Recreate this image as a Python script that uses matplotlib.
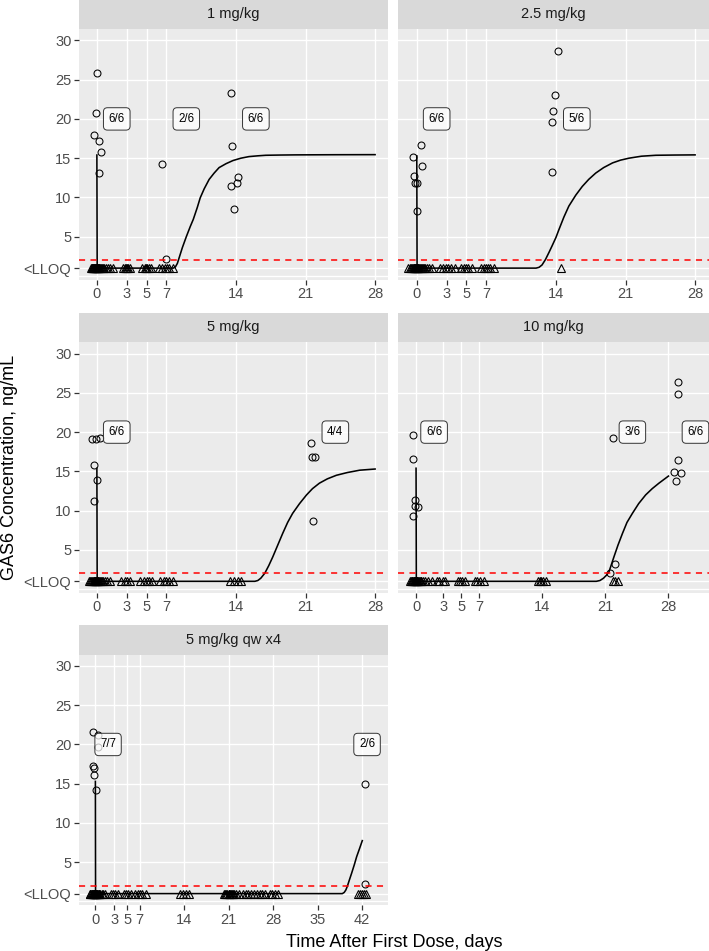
import matplotlib
matplotlib.use("Agg")
import matplotlib.pyplot as plt

plt.rcParams['font.family'] = ['Liberation Sans', 'DejaVu Sans']

# ---------------- data ----------------
panel_titles = ["1 mg/kg", "2.5 mg/kg", "5 mg/kg", "10 mg/kg", "5 mg/kg qw x4"]

LLOQ = 2.0          # red dashed line
BLQ_Y = 1.0         # position where <LLOQ samples are drawn

y_breaks = [1, 5, 10, 15, 20, 25, 30]
y_labels = ["<LLOQ", "5", "10", "15", "20", "25", "30"]
x_breaks_single = [0, 3, 5, 7, 14, 21, 28]
x_breaks_multi = [0, 3, 5, 7, 14, 21, 28, 35, 42]

# 1 mg/kg
obs_t_1 = [0.03, -0.1, -0.27, 0.17, 0.4, 0.23, 6.57, 6.93, 13.53, 13.6, 13.47, 14.07, 14.2, 13.83]
obs_c_1 = [25.9, 20.7, 18.0, 17.15, 15.8, 13.1, 14.3, 2.2, 23.3, 16.5, 11.4, 11.9, 12.6, 8.55]
blq_t_1 = [-0.6, -0.5, -0.45, -0.4, -0.35, -0.3, -0.25, -0.2, -0.15, -0.1, -0.05, 0.0, 0.05, 0.1,
           0.15, 0.2, 0.25, 0.3, 0.4, 0.5, 0.6, 0.7, 0.9, 1.1, 1.3, 1.6,
           2.6, 2.8, 2.9, 3.0, 3.1, 3.3, 4.5, 4.8, 4.9, 5.0, 5.2, 5.4, 6.3, 6.6, 6.9, 7.1, 7.3, 7.7]
fit_t_1 = [0, 0.03, 7.7, 7.9, 8.1, 8.3, 8.6, 9.0, 9.4, 9.7, 10.1, 10.4, 10.8, 11.3, 11.8, 12.3,
           13.0, 13.7, 14.5, 15.3, 16.2, 17.0, 18.5, 20.0, 24.0, 28.0]
fit_c_1 = [15.4, 1.0, 1.0, 1.15, 1.6, 2.4, 3.6, 5.0, 6.3, 7.2, 8.7, 9.95, 11.1, 12.3, 13.1, 13.8,
           14.3, 14.7, 15.0, 15.2, 15.3, 15.37, 15.4, 15.42, 15.44, 15.45]
lab_t_1 = [2, 9, 16]
lab_s_1 = ["6/6", "2/6", "6/6"]

# 2.5 mg/kg
obs_t_2 = [14.19, 13.86, 13.72, 13.65, 13.59, 0.47, -0.37, 0.53, -0.27, -0.17, 0.0, 0.07]
obs_c_2 = [28.6, 23.0, 21.05, 19.65, 13.25, 16.7, 15.1, 14.0, 12.7, 11.9, 11.9, 8.3]
blq_t_2 = [-0.85, -0.7, -0.6, -0.5, -0.4, -0.3, -0.25, -0.2, -0.15, -0.1, -0.05, 0.0, 0.05, 0.1,
           0.15, 0.2, 0.3, 0.4, 0.5, 0.6, 0.7, 0.8, 1.0, 1.2, 1.5,
           2.3, 2.6, 2.9, 3.1, 3.4, 3.8, 4.4, 4.8, 5.0, 5.2, 5.6, 6.5, 6.8, 7.0, 7.2, 7.4, 7.8, 14.46]
fit_t_2 = [0, 0.03, 12.0, 12.3, 12.6, 12.95, 13.3, 13.6, 14.0, 14.3, 14.8, 15.3, 16.0, 16.65,
           17.3, 18.0, 18.8, 19.7, 20.5, 21.35, 22.6, 24.05, 26.0, 28.0]
fit_c_2 = [15.3, 1.0, 1.0, 1.1, 1.4, 2.1, 3.0, 3.8, 4.9, 5.9, 7.5, 8.9, 10.3, 11.4,
           12.3, 13.1, 13.8, 14.4, 14.75, 15.0, 15.25, 15.37, 15.4, 15.42]
lab_t_2 = [2, 16.1]
lab_s_2 = ["6/6", "5/6"]

# 5 mg/kg
obs_t_3 = [-0.46, -0.13, 0.27, -0.3, 0.04, -0.3, 21.5, 21.65, 22.0, 21.8]
obs_c_3 = [19.1, 19.1, 19.2, 15.8, 13.85, 11.2, 18.6, 16.85, 16.85, 8.7]
blq_t_3 = [-0.8, -0.7, -0.6, -0.5, -0.4, -0.3, -0.25, -0.2, -0.15, -0.1, -0.05, 0.0, 0.05, 0.1,
           0.15, 0.2, 0.3, 0.4, 0.5, 0.6, 0.8, 1.0, 1.3,
           2.4, 2.8, 3.0, 3.3, 4.3, 4.7, 5.0, 5.2, 5.5, 6.4, 6.8, 7.0, 7.3, 7.7, 13.4, 13.8, 14.2, 14.5]
fit_t_3 = [0, 0.03, 15.9, 16.2, 16.5, 16.9, 17.3, 17.7, 18.2, 18.7, 19.2, 19.7, 20.4, 21.1,
           21.7, 22.4, 23.2, 24.1, 25.2, 26.45, 28.0]
fit_c_3 = [15.4, 1.0, 1.0, 1.1, 1.4, 2.03, 3.0, 4.1, 5.6, 7.1, 8.5, 9.65, 10.9, 12.0,
           12.8, 13.5, 14.05, 14.5, 14.85, 15.15, 15.3]
lab_t_3 = [2, 24]
lab_s_3 = ["6/6", "4/4"]

# 10 mg/kg
obs_t_4 = [-0.33, -0.33, -0.11, -0.15, 0.19, -0.37, 21.8, 22.06, 21.55, 29.03, 29.1, 29.03, 28.6, 29.4, 28.85]
obs_c_4 = [19.6, 16.55, 11.35, 10.6, 10.45, 9.3, 19.2, 3.2, 2.0, 26.4, 24.9, 16.5, 14.9, 14.75, 13.8]
blq_t_4 = [-0.67, -0.6, -0.5, -0.4, -0.3, -0.25, -0.2, -0.15, -0.1, -0.05, 0.0, 0.05, 0.1,
           0.15, 0.2, 0.3, 0.4, 0.5, 0.6, 0.8, 1.0, 1.3, 1.75,
           2.3, 2.6, 3.0, 3.2, 4.7, 4.9, 5.1, 5.4, 6.5, 6.8, 7.1, 7.5,
           13.5, 13.7, 13.9, 14.1, 14.4, 21.8, 22.1, 22.4]
fit_t_4 = [0, 0.03, 20.0, 20.4, 20.8, 21.1, 21.4, 21.95, 22.4, 22.9, 23.4, 24.0, 24.7, 25.47,
           26.2, 26.95, 28.0]
fit_c_4 = [15.4, 1.0, 1.0, 1.1, 1.4, 1.75, 2.2, 4.1, 5.6, 7.1, 8.5, 9.65, 10.9, 12.0,
           12.8, 13.5, 14.4]
lab_t_4 = [2, 24, 31]
lab_s_4 = ["6/6", "3/6", "6/6"]

# 5 mg/kg qw x4
obs_t_5 = [-0.38, 0.47, 0.47, -0.4, -0.15, -0.2, 0.05, 42.5, 42.4]
obs_c_5 = [21.6, 21.2, 19.7, 17.3, 17.0, 16.15, 14.25, 15.0, 2.24]
blq_t_5 = [-0.9, -0.8, -0.7, -0.6, -0.5, -0.4, -0.3, -0.25, -0.2, -0.15, -0.1, -0.05, 0.0, 0.05, 0.1,
           0.15, 0.2, 0.3, 0.4, 0.5, 0.6, 0.8, 1.0, 1.2, 1.5,
           2.4, 2.8, 3.1, 3.6, 4.5, 4.9, 5.2, 5.6, 6.3, 6.7, 7.0, 7.4, 7.9, 13.4, 13.8, 14.2, 14.7,
           20.2, 20.4, 20.6, 20.8, 21.0, 21.1, 21.2, 21.3, 21.5, 21.7, 21.9, 22.2, 22.7,
           23.3, 23.7, 24.1, 24.5, 25.0, 25.5, 25.9, 26.3, 26.8, 27.5, 27.9, 28.3, 28.8,
           41.3, 41.7, 42.0, 42.3, 42.7]
fit_t_5 = [0, 0.03, 38.9, 39.2, 39.45, 39.68, 40.0, 40.37, 40.8, 41.16, 41.6, 42.05]
fit_c_5 = [15.3, 1.0, 1.0, 1.15, 1.45, 1.9, 2.7, 3.6, 4.7, 5.7, 6.7, 7.75]
lab_t_5 = [2, 42.8]
lab_s_5 = ["7/7", "2/6"]

LABEL_Y = 20

obs_t = [obs_t_1, obs_t_2, obs_t_3, obs_t_4, obs_t_5]
obs_c = [obs_c_1, obs_c_2, obs_c_3, obs_c_4, obs_c_5]
blq_t = [blq_t_1, blq_t_2, blq_t_3, blq_t_4, blq_t_5]
fit_t = [fit_t_1, fit_t_2, fit_t_3, fit_t_4, fit_t_5]
fit_c = [fit_c_1, fit_c_2, fit_c_3, fit_c_4, fit_c_5]
lab_t = [lab_t_1, lab_t_2, lab_t_3, lab_t_4, lab_t_5]
lab_s = [lab_s_1, lab_s_2, lab_s_3, lab_s_4, lab_s_5]

# ---------------- layout (pixels) ----------------
W, H = 709, 951
fig = plt.figure(figsize=(W / 100, H / 100), dpi=100)

cols = [(79, 388), (398.3, 709)]
rows = [(29, 279.5), (342.2, 592.7), (654.6, 905)]
STRIP_H = 29.5
xlims = [(-1.8, 29.3), (-1.86, 29.4), (-1.8, 29.3), (-1.97, 32.5), (-2.58, 46.1)]
ylim = (-0.45, 31.45)

BG = "#EBEBEB"
STRIP = "#D9D9D9"
TICKC = "#333333"
TXTC = "#4D4D4D"


def px_rect(x0, x1, y0, y1):
    return [x0 / W, 1 - y1 / H, (x1 - x0) / W, (y1 - y0) / H]


for i in range(5):
    r, c = divmod(i, 2)
    x0, x1 = cols[c]
    y0, y1 = rows[r]
    ax = fig.add_axes(px_rect(x0, x1, y0, y1))
    ax.set_facecolor(BG)
    for s in ax.spines.values():
        s.set_visible(False)
    ax.set_xlim(*xlims[i])
    ax.set_ylim(*ylim)
    xb = x_breaks_multi if i == 4 else x_breaks_single
    ax.set_xticks(xb)
    ax.set_xticklabels([str(v) for v in xb])
    ax.set_yticks(y_breaks)
    if c == 0:
        ax.set_yticklabels(y_labels)
        ax.tick_params(axis='y', length=3.5, width=0.9, color=TICKC, labelcolor=TXTC,
                       labelsize=10.5, pad=2)
    else:
        ax.set_yticklabels([])
        ax.tick_params(axis='y', length=0)
    ax.tick_params(axis='x', length=3.5, width=0.9, color=TICKC, labelcolor=TXTC,
                   labelsize=10.5, pad=2)
    # grid
    for v in xb:
        ax.axvline(v, color='white', lw=1.0, zorder=0.5)
    for v in [0] + y_breaks:
        ax.axhline(v, color='white', lw=1.0, zorder=0.5)

    ax.plot(blq_t[i], [BLQ_Y] * len(blq_t[i]), linestyle='none', marker='^', ms=6.3,
            mfc='none', mec='black', mew=0.8, zorder=3)
    ax.plot(obs_t[i], obs_c[i], linestyle='none', marker='o', ms=5.0,
            mfc='none', mec='black', mew=0.75, zorder=3)
    ax.plot(fit_t[i], fit_c[i], color='black', lw=1.15, zorder=4, solid_joinstyle='round')
    ax.axhline(LLOQ, color='#FF0000', lw=1.1, linestyle=(0, (4, 3.5)), zorder=5)
    for t, s in zip(lab_t[i], lab_s[i]):
        ax.text(t, LABEL_Y, s, ha='center', va='center', fontsize=8.3, color='black', zorder=6,
                bbox=dict(boxstyle='round,pad=0.45,rounding_size=0.35',
                          fc=(1, 1, 1, 0.75), ec='#333333', lw=0.7))

    # strip
    sax = fig.add_axes(px_rect(x0, x1, y0 - STRIP_H, y0))
    sax.set_facecolor(STRIP)
    sax.set_xticks([])
    sax.set_yticks([])
    for s in sax.spines.values():
        s.set_visible(False)
    sax.text(0.5, 0.5, panel_titles[i], ha='center', va='center', fontsize=10.5,
             color='#1A1A1A', transform=sax.transAxes)

fig.text((79 + 709) / 2 / W, 1 - 951 / H, "Time After First Dose, days", ha='center',
         va='bottom', fontsize=13, color='black')
fig.text(10 / W, 1 - 467 / H, "GAS6 Concentration, ng/mL", ha='center', va='center',
         rotation=90, fontsize=13, color='black')

fig.savefig("out.png", dpi=100)
